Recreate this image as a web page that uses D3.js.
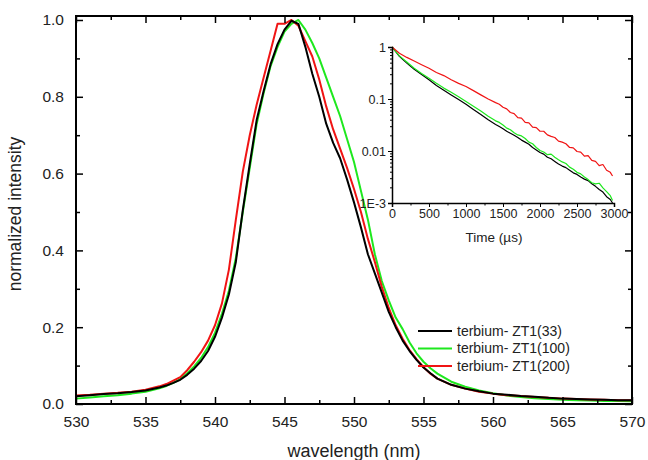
<!DOCTYPE html>
<html>
<head>
<meta charset="utf-8">
<script src="https://cdn.jsdelivr.net/npm/d3@7"></script>
<style>
  body { margin: 0; background: #fff; }
  svg { font-family: "Liberation Sans", Arial, sans-serif; }
</style>
</head>
<body>
<div id="chart"></div>
<script>
// emission spectra (normalized), wavelength in nm
const wavelength = [530, 531, 532, 533, 534, 535, 536, 536.5, 537, 537.5, 538, 538.5, 539, 539.5,
    540, 540.5, 541, 541.5, 542, 542.5, 543, 543.5, 544, 544.5, 545, 545.5, 546, 546.5, 547, 547.5,
    548, 548.5, 549, 549.5, 550, 550.5, 551, 551.5, 552, 552.5, 553, 553.5, 554, 554.5, 555, 555.5,
    556, 557, 558, 559, 560, 561, 562, 563, 564, 565, 566, 567, 568, 569, 570];
const zt33 = [0.020, 0.023, 0.026, 0.028, 0.031, 0.035, 0.043, 0.048, 0.055, 0.063, 0.076, 0.092, 0.112, 0.138,
    0.175, 0.225, 0.285, 0.370, 0.505, 0.625, 0.740, 0.815, 0.885, 0.937, 0.975, 0.998, 0.990, 0.930, 0.860, 0.800,
    0.730, 0.680, 0.640, 0.585, 0.525, 0.460, 0.390, 0.340, 0.290, 0.240, 0.200, 0.165, 0.138, 0.115, 0.095, 0.080,
    0.066, 0.050, 0.040, 0.033, 0.027, 0.024, 0.021, 0.019, 0.016, 0.014, 0.013, 0.012, 0.011, 0.010, 0.010];
const zt100 = [0.014, 0.017, 0.020, 0.023, 0.027, 0.032, 0.041, 0.047, 0.055, 0.065, 0.080, 0.098, 0.120, 0.148,
    0.185, 0.235, 0.295, 0.380, 0.500, 0.615, 0.730, 0.810, 0.880, 0.930, 0.970, 0.990, 1.000, 0.975, 0.940, 0.900,
    0.850, 0.800, 0.750, 0.690, 0.630, 0.555, 0.480, 0.390, 0.320, 0.270, 0.225, 0.195, 0.160, 0.132, 0.110, 0.093,
    0.079, 0.058, 0.045, 0.035, 0.028, 0.022, 0.018, 0.015, 0.013, 0.011, 0.010, 0.009, 0.008, 0.008, 0.007];
const zt200 = [0.022, 0.024, 0.027, 0.029, 0.032, 0.037, 0.046, 0.052, 0.061, 0.070, 0.088, 0.110, 0.135, 0.165,
    0.205, 0.262, 0.350, 0.480, 0.605, 0.700, 0.780, 0.850, 0.920, 0.990, 0.990, 1.000, 0.985, 0.945, 0.905, 0.845,
    0.775, 0.715, 0.665, 0.615, 0.560, 0.500, 0.430, 0.370, 0.305, 0.250, 0.205, 0.170, 0.140, 0.117, 0.096, 0.079,
    0.066, 0.050, 0.040, 0.032, 0.027, 0.023, 0.021, 0.018, 0.016, 0.014, 0.013, 0.012, 0.011, 0.010, 0.010];

// luminescence decay (inset), time in µs
const time = [0, 100, 200, 300, 400, 500, 600, 700, 800, 900, 1000, 1100, 1200, 1300, 1400,
    1450, 1500, 1550, 1600, 1650, 1700, 1750, 1800, 1850, 1900, 1950, 2000, 2050, 2100, 2150, 2200,
    2250, 2300, 2350, 2400, 2450, 2500, 2550, 2600, 2650, 2700, 2750, 2800, 2850, 2900, 2950, 2980];
const decay33 = [1, 0.661, 0.490, 0.372, 0.295, 0.234, 0.182, 0.148, 0.120, 0.0977, 0.0794, 0.0631, 0.0501, 0.0398, 0.0324,
    0.0295, 0.0269, 0.0240, 0.0219, 0.0200, 0.0182, 0.0162, 0.0148, 0.0135, 0.0117, 0.0105, 0.00933, 0.00871, 0.00759,
    0.00708, 0.00631, 0.00562, 0.00513, 0.00479, 0.00427, 0.00380, 0.00355, 0.00316, 0.00288, 0.00269, 0.00234,
    0.00209, 0.00182, 0.00162, 0.00132, 0.00117, 0.00100];
const decay100 = [1, 0.676, 0.513, 0.389, 0.309, 0.251, 0.200, 0.162, 0.135, 0.110, 0.0891, 0.0724, 0.0589, 0.0468, 0.0380,
    0.0355, 0.0316, 0.0275, 0.0257, 0.0224, 0.0204, 0.0195, 0.0174, 0.0148, 0.0138, 0.0117, 0.0102, 0.00955, 0.00851,
    0.00871, 0.00759, 0.00676, 0.00617, 0.00575, 0.00490, 0.00447, 0.00389, 0.00363, 0.00316, 0.00282, 0.00245,
    0.00234, 0.00240, 0.00195, 0.00166, 0.00138, 0.00112];
const decay200 = [1, 0.759, 0.631, 0.537, 0.457, 0.389, 0.324, 0.282, 0.234, 0.200, 0.174, 0.145, 0.120, 0.100, 0.0851,
    0.0794, 0.0692, 0.0646, 0.0550, 0.0525, 0.0437, 0.0427, 0.0355, 0.0347, 0.0288, 0.0282, 0.0240, 0.0240, 0.0204,
    0.0191, 0.0182, 0.0155, 0.0148, 0.0138, 0.0117, 0.0115, 0.00977, 0.00955, 0.00794, 0.00813, 0.00661,
    0.00631, 0.00525, 0.00550, 0.00427, 0.00389, 0.00331];

const seriesNames = ["terbium- ZT1(33)", "terbium- ZT1(100)", "terbium- ZT1(200)"];
const seriesColors = ["#000000", "#1ee81e", "#f01414"];

const xTicks = [530, 535, 540, 545, 550, 555, 560, 565, 570];
const xMinorTicks = [532.5, 537.5, 542.5, 547.5, 552.5, 557.5, 562.5, 567.5];
const yTicks = [0, 0.2, 0.4, 0.6, 0.8, 1.0];
const yMinorTicks = [0.1, 0.3, 0.5, 0.7, 0.9];
const insetXTicks = [0, 500, 1000, 1500, 2000, 2500, 3000];
const insetXMinorTicks = [250, 750, 1250, 1750, 2250, 2750];
const insetYTicks = [1e-3, 1e-2, 1e-1, 1];
const insetYLabels = ["1E-3", "0.01", "0.1", "1"];

const width = 648, height = 460;
const margin = { top: 16, right: 16, bottom: 56, left: 76 };

const svg = d3.select("#chart").append("svg")
    .attr("width", width)
    .attr("height", height)
    .attr("viewBox", [0, 0, width, height]);

const x = d3.scaleLinear([530, 570], [margin.left, width - margin.right]);
const y = d3.scaleLinear([0, 1.0104], [height - margin.bottom, margin.top]);

// spectra: green and red first so black sits on top
const spectra = [zt100, zt200, zt33];
const spectraColors = [seriesColors[1], seriesColors[2], seriesColors[0]];
const line = d3.line()
    .x((d, i) => x(wavelength[i]))
    .y(d => y(d));

svg.append("g")
    .attr("fill", "none")
    .attr("stroke-width", 2)
    .attr("stroke-linejoin", "round")
  .selectAll("path")
  .data(spectra)
  .join("path")
    .attr("stroke", (d, i) => spectraColors[i])
    .attr("d", line);

// frame with inward ticks on all sides
function tickAxis(axis, values, size) {
    return axis.tickValues(values).tickSize(size).tickFormat("");
}
const bottom = height - margin.bottom, right = width - margin.right;

svg.append("g")
    .attr("transform", `translate(0,${bottom})`)
    .call(d3.axisBottom(x).tickValues(xTicks).tickSize(-7).tickPadding(12).tickFormat(d3.format("d")))
    .call(g => g.selectAll(".tick text").attr("font-size", 15.5).attr("fill", "#222"));
svg.append("g").attr("transform", `translate(0,${bottom})`).call(tickAxis(d3.axisBottom(x), xMinorTicks, -4));
svg.append("g").attr("transform", `translate(0,${margin.top})`).call(tickAxis(d3.axisTop(x), xTicks, -7));
svg.append("g").attr("transform", `translate(0,${margin.top})`).call(tickAxis(d3.axisTop(x), xMinorTicks, -4));

svg.append("g")
    .attr("transform", `translate(${margin.left},0)`)
    .call(d3.axisLeft(y).tickValues(yTicks).tickSize(-7).tickPadding(12).tickFormat(d3.format(".1f")))
    .call(g => g.selectAll(".tick text").attr("font-size", 15.5).attr("fill", "#222"));
svg.append("g").attr("transform", `translate(${margin.left},0)`).call(tickAxis(d3.axisLeft(y), yMinorTicks, -4));
svg.append("g").attr("transform", `translate(${right},0)`).call(tickAxis(d3.axisRight(y), yTicks, -7));
svg.append("g").attr("transform", `translate(${right},0)`).call(tickAxis(d3.axisRight(y), yMinorTicks, -4));

svg.selectAll(".domain").remove();
svg.selectAll(".tick line").attr("stroke", "#000").attr("stroke-width", 1.5);

svg.append("rect")
    .attr("x", margin.left)
    .attr("y", margin.top)
    .attr("width", right - margin.left)
    .attr("height", bottom - margin.top)
    .attr("fill", "none")
    .attr("stroke", "#000")
    .attr("stroke-width", 2);

svg.append("text")
    .attr("x", (margin.left + right) / 2)
    .attr("y", 457)
    .attr("text-anchor", "middle")
    .attr("font-size", 18)
    .attr("fill", "#222")
    .text("wavelength (nm)");

svg.append("text")
    .attr("transform", `translate(21,${(margin.top + bottom) / 2 + 4}) rotate(-90)`)
    .attr("text-anchor", "middle")
    .attr("font-size", 17.5)
    .attr("fill", "#222")
    .text("normalized intensity");

// legend
const legend = svg.append("g")
    .attr("font-size", 14)
    .selectAll("g")
    .data(seriesNames)
    .join("g")
    .attr("transform", (d, i) => `translate(418,${331 + i * 17.5})`);
legend.append("line")
    .attr("x2", 34)
    .attr("stroke", (d, i) => seriesColors[i])
    .attr("stroke-width", 2);
legend.append("text")
    .attr("x", 39)
    .attr("dy", "0.35em")
    .attr("fill", "#222")
    .text(d => d);

// inset: decay curves on a log scale
const ix = d3.scaleLinear([0, 3000], [392, 614]);
const iy = d3.scaleLog([1e-3, 1], [203, 47]);
const inset = svg.append("g");

const insetLine = d3.line()
    .x((d, i) => ix(time[i]))
    .y(d => iy(d));

inset.append("g")
    .attr("fill", "none")
    .attr("stroke-width", 1.2)
    .attr("stroke-linejoin", "round")
  .selectAll("path")
  .data([decay33, decay100, decay200])
  .join("path")
    .attr("stroke", (d, i) => seriesColors[i])
    .attr("d", insetLine);

inset.append("g")
    .attr("transform", "translate(0,203)")
    .call(d3.axisBottom(ix).tickValues(insetXTicks).tickSize(4).tickPadding(2).tickFormat(d3.format("d")))
    .call(g => g.selectAll(".tick text").attr("font-size", 12.5).attr("fill", "#222"));
inset.append("g")
    .attr("transform", "translate(0,203)")
    .call(d3.axisBottom(ix).tickValues(insetXMinorTicks).tickSize(2.5).tickFormat(""))
    .call(g => g.select(".domain").remove());

const logMinor = d3.range(-3, 0).flatMap(e => d3.range(2, 10).map(m => m * Math.pow(10, e)));
inset.append("g")
    .attr("transform", "translate(392,0)")
    .call(d3.axisLeft(iy).tickValues(insetYTicks).tickSize(4).tickPadding(2)
        .tickFormat((d, i) => insetYLabels[i]))
    .call(g => g.selectAll(".tick text").attr("font-size", 12.5).attr("fill", "#222"));
inset.append("g")
    .attr("transform", "translate(392,0)")
    .call(d3.axisLeft(iy).tickValues(logMinor).tickSize(2).tickFormat(""))
    .call(g => g.select(".domain").remove());

inset.selectAll(".domain").attr("stroke", "#000").attr("stroke-width", 1.5);
inset.selectAll(".tick line").attr("stroke", "#000");

inset.append("text")
    .attr("x", 494)
    .attr("y", 242)
    .attr("text-anchor", "middle")
    .attr("font-size", 13.5)
    .attr("fill", "#222")
    .text("Time (µs)");
</script>
</body>
</html>
